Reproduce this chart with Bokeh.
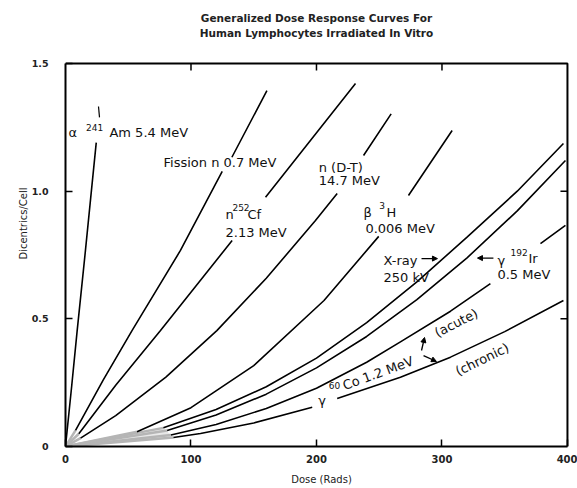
from bokeh.plotting import figure
from bokeh.models import ColumnDataSource, Range1d, FixedTicker, Arrow, NormalHead
from bokeh.core.properties import value
from bokeh.embed import file_html
from bokeh.resources import INLINE

nan = float("nan")

# ---------------- data (dose in rads, dicentrics per cell) ----------------
alpha_dose = [0, 5, 9.3, 15.9, 20, 24.5]
alpha_dcr = [0, 0.24, 0.454, 0.768, 0.97, 1.19]

fission_dose = [8, 30, 53, 91.6, 124.9, nan, 132.6, 160.5]
fission_dcr = [0.063, 0.26, 0.454, 0.768, 1.078, nan, 1.133, 1.394]

cf_dose = [10.6, 40, 75.7, 132.8, nan, 159.4, 231.1]
cf_dcr = [0.05, 0.24, 0.454, 0.807, nan, 0.976, 1.422]

dt_dose = [12, 40, 80, 120.6, 160, 199.2, 216.5, nan, 237.5, 259.5]
dt_dcr = [0.033, 0.121, 0.272, 0.454, 0.659, 0.885, 0.991, nan, 1.14, 1.303]

beta_dose = [57, 100, 150, 206, 249.6, nan, 273.3, 308.1]
beta_dcr = [0.058, 0.152, 0.317, 0.572, 0.823, nan, 0.983, 1.238]

xray_dose = [78, 120, 160, 200, 240, 280, 320, 360, 396.8]
xray_dcr = [0.073, 0.145, 0.234, 0.346, 0.485, 0.645, 0.82, 1.0, 1.187]

ir_dose = [81, 120, 160, 200, 240, 280, 320, 360, 398.4]
ir_dcr = [0.063, 0.123, 0.205, 0.308, 0.431, 0.575, 0.739, 0.923, 1.12]

acute_dose = [84, 120, 160, 200, 240, 266.9, 306.8, 338.6, nan, 378.5, 398.4]
acute_dcr = [0.045, 0.086, 0.149, 0.228, 0.33, 0.41, 0.53, 0.638, nan, 0.795, 0.866]

chronic_dose = [86, 107.6, 150, 196.6, nan, 216.5, 266.9, 306.8, 350, 396.8]
chronic_dcr = [0.035, 0.051, 0.092, 0.154, nan, 0.188, 0.271, 0.35, 0.45, 0.572]

x_ticks = [0, 100, 200, 300, 400]
x_tick_labels = ["0", "100", "200", "300", "400"]
y_ticks = [0, 0.5, 1.0, 1.5]
y_tick_labels = ["0", "0.5", "1.0", "1.5"]
top_ticks = [100, 200, 300]
right_ticks = [0.5, 1.0]

title_lines = ["Generalized Dose Response Curves For",
               "Human Lymphocytes Irradiated In Vitro"]
title_x = [200, 200]
title_y = [1.68, 1.621]
x_label = "Dose (Rads)"
y_label = "Dicentrics/Cell"

# curve labels (upright)
lab_text = ["α", "Am 5.4 MeV", "Fission n 0.7 MeV", "n", "Cf", "2.13 MeV",
            "n (D-T)", "14.7 MeV", "β", "H", "0.006 MeV", "X-ray", "250 kV",
            "γ", "Ir", "0.5 MeV", "γ"]
lab_x = [2.4, 35, 78.1, 127.5, 145, 127.5, 201.8, 201.8, 237.5, 255.8, 239,
         253.4, 253.4, 344.2, 368.9, 344.2, 201.5]
lab_y = [1.23, 1.23, 1.114, 0.909, 0.909, 0.839, 1.094, 1.042, 0.918, 0.918,
         0.853, 0.729, 0.663, 0.729, 0.737, 0.674, 0.18]

# superscripts
sup_text = ["241", "252", "3", "192", "60"]
sup_x = [16.3, 133, 250, 354.6, 209.7]
sup_y = [1.25, 0.936, 0.944, 0.76, 0.239]

# rotated labels
rot_text = ["Co 1.2 MeV", "(acute)", "(chronic)"]
rot_x = [249.0, 311.4, 332.0]
rot_y = [0.287, 0.484, 0.341]
rot_angle = [20, 27, 26]

FONT = "DejaVu Sans"
TICK = 7  # px

X_MAX, Y_MAX = x_ticks[-1], y_ticks[-1]
# the frame also covers the heading area above the chart box and a sliver on the right
p = figure(width=577, height=488, x_range=Range1d(0, 408), y_range=Range1d(0, 1.747),
           output_backend="svg", toolbar_location=None, title=None,
           min_border_left=65, min_border_right=0, min_border_top=0, min_border_bottom=42)
p.background_fill_color = "white"
p.border_fill_color = "white"
p.outline_line_color = None
p.grid.visible = False

p.xaxis.ticker = FixedTicker(ticks=x_ticks)
p.xaxis.major_label_overrides = {t: l for t, l in zip(x_ticks, x_tick_labels)}
p.yaxis.ticker = FixedTicker(ticks=y_ticks)
p.yaxis.major_label_overrides = {t: l for t, l in zip(y_ticks, y_tick_labels)}
p.xaxis.bounds = (0, X_MAX)
p.yaxis.bounds = (0, Y_MAX)
p.xaxis.axis_label = x_label
p.yaxis.axis_label = y_label
for ax in (p.xaxis, p.yaxis):
    ax.axis_line_width = 2
    ax.axis_line_color = "black"
    ax.major_tick_in = TICK
    ax.major_tick_out = 0
    ax.major_tick_line_width = 1.5
    ax.minor_tick_in = 0
    ax.minor_tick_out = 0
    ax.major_label_text_font = FONT
    ax.major_label_text_font_style = "bold"
    ax.major_label_text_color = "#222222"
    ax.axis_label_text_font = FONT
    ax.axis_label_text_font_size = "10px"
    ax.axis_label_text_font_style = "normal"
    ax.axis_label_text_color = "#222222"
p.xaxis.major_label_text_font_size = "10px"
p.yaxis.major_label_text_font_size = "9.5px"
p.xaxis.major_label_standoff = 8
p.xaxis.axis_label_standoff = 8
p.yaxis.major_label_standoff = 17
p.yaxis.axis_label_standoff = 0

# top and right edges of the chart box, with inward ticks
p.line([0, X_MAX, X_MAX], [Y_MAX, Y_MAX, 0], line_color="black", line_width=2)
ky = TICK * 1.5 / 383.0
kx = TICK * 400.0 / 502.0
p.segment(x0=top_ticks, y0=[Y_MAX] * len(top_ticks), x1=top_ticks,
          y1=[Y_MAX - ky] * len(top_ticks), line_color="black", line_width=1.5)
p.segment(x0=[X_MAX] * len(right_ticks), y0=right_ticks, x1=[X_MAX - kx] * len(right_ticks),
          y1=right_ticks, line_color="black", line_width=1.5)

# heading
p.text(x=title_x, y=title_y, text=title_lines, text_font=value(FONT),
       text_font_size="10.5px", text_font_style="bold", text_align="center",
       text_baseline="middle", text_color="#222222")

curves = [(alpha_dose, alpha_dcr), (fission_dose, fission_dcr), (cf_dose, cf_dcr),
          (dt_dose, dt_dcr), (beta_dose, beta_dcr), (xray_dose, xray_dcr),
          (ir_dose, ir_dcr), (acute_dose, acute_dcr), (chronic_dose, chronic_dcr)]

# faint low-dose smudge near the origin
smx = [0, beta_dose[0], xray_dose[0], chronic_dose[0]]
smy = [0, beta_dcr[0], xray_dcr[0], chronic_dcr[0]]
p.patch(smx, smy, fill_color="#cccccc", fill_alpha=0.45, line_color=None)
for xs, ys in curves[1:]:
    p.line([0, xs[0]], [0, ys[0]], line_color="#b5b5b5", line_width=2.5)

for xs, ys in curves:
    p.line(xs, ys, line_color="black", line_width=1.6)

# small leader above the alpha curve
p.segment(x0=[27.1], y0=[1.289], x1=[26.3], y1=[1.332], line_color="black", line_width=1.2)

src = ColumnDataSource(dict(x=lab_x, y=lab_y, text=lab_text))
p.text(x="x", y="y", text="text", source=src, text_font=value(FONT), text_font_size="13px",
       text_align="left", text_baseline="middle", text_color="#111111")
src2 = ColumnDataSource(dict(x=sup_x, y=sup_y, text=sup_text))
p.text(x="x", y="y", text="text", source=src2, text_font=value(FONT), text_font_size="9px",
       text_align="left", text_baseline="middle", text_color="#111111")
src3 = ColumnDataSource(dict(x=rot_x, y=rot_y, text=rot_text, angle=rot_angle))
p.text(x="x", y="y", text="text", angle="angle", angle_units="deg", source=src3,
       text_font=value(FONT), text_font_size="13px", text_align="center",
       text_baseline="middle", text_color="#111111")

arrows = [((283.7, 0.736), (296.4, 0.736)), ((341.0, 0.738), (328.3, 0.738)),
          ((283.7, 0.376), (286.1, 0.427)), ((285.3, 0.356), (295.6, 0.333))]
for (x0, y0), (x1, y1) in arrows:
    p.add_layout(Arrow(end=NormalHead(size=5, fill_color="black", line_color="black"),
                       x_start=x0, y_start=y0, x_end=x1, y_end=y1,
                       line_color="black", line_width=1.3))

open("out.html", "w").write(file_html(p, INLINE))
